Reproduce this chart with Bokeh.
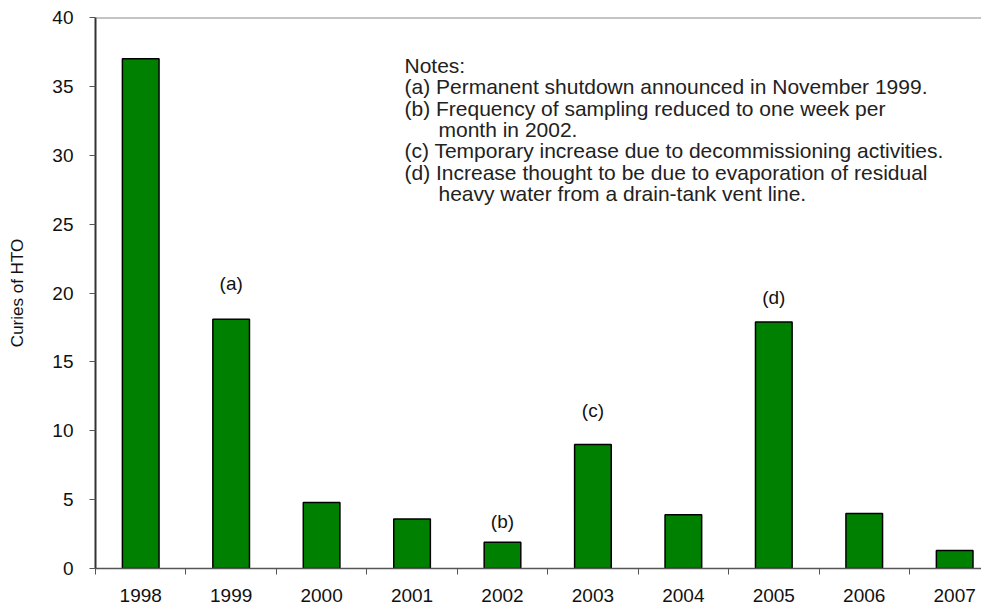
from bokeh.plotting import figure
from bokeh.models import Range1d, FixedTicker, Span
from bokeh.embed import file_html
from bokeh.resources import INLINE
from bokeh.core.properties import value

years = ["1998", "1999", "2000", "2001", "2002", "2003", "2004", "2005", "2006", "2007"]
curies = [37.0, 18.1, 4.8, 3.6, 1.9, 9.0, 3.9, 17.9, 4.0, 1.3]

note_years = ["1999", "2002", "2003", "2005"]
note_marks = ["(a)", "(b)", "(c)", "(d)"]
note_heights = [20.7, 3.4, 11.5, 19.7]

y_ticks = [0, 5, 10, 15, 20, 25, 30, 35, 40]

notes_lines = [
    "Notes:",
    "(a) Permanent shutdown announced in November 1999.",
    "(b) Frequency of sampling reduced to one week per",
    "month in 2002.",
    "(c) Temporary increase due to decommissioning activities.",
    "(d) Increase thought to be due to evaporation of residual",
    "heavy water from a drain-tank vent line.",
]
notes_indent = [False, False, False, True, False, False, True]

FONT = "Liberation Sans, Arial, sans-serif"

W, H = 981, 605
LEFT, TOP, BOTTOM = 95, 17, 37
px_per_cat = 90.44
frame_w = W - LEFT
frame_h = H - TOP - BOTTOM

p = figure(width=W, height=H, output_backend="svg", toolbar_location=None,
           x_range=Range1d(0, frame_w / px_per_cat), y_range=Range1d(0, 40),
           min_border_left=LEFT, min_border_right=0, min_border_top=TOP,
           min_border_bottom=BOTTOM)
p.outline_line_color = None
p.xgrid.visible = False
p.ygrid.visible = False
p.background_fill_color = "white"

centers = [i + 0.5 for i in range(len(years))]
p.vbar(x=centers, width=0.405, top=curies, bottom=0,
       fill_color="#008000", line_color="black", line_width=1.5)

# annotation marks above bars
mx = [years.index(y) + 0.5 for y in note_years]
p.text(x=mx, y=note_heights, text=note_marks, text_align="center", text_baseline="middle",
       text_font=value(FONT), text_font_size="19px", text_color="#111111")

# notes block
line_px = 21.3
y_per_px = 40 / float(frame_h)
top_center_px = 65 - TOP
nx0 = (404 - LEFT) / px_per_cat
nx1 = (438 - LEFT) / px_per_cat
nxs = [nx1 if ind else nx0 for ind in notes_indent]
nys = [40 - (top_center_px + i * line_px) * y_per_px for i in range(len(notes_lines))]
p.text(x=nxs, y=nys, text=notes_lines, text_align="left", text_baseline="middle",
       text_font=value(FONT), text_font_size="21px", text_color="#222222")

p.add_layout(Span(location=40, dimension="width", line_color="#8a8a8a", line_width=2))

# x axis
xa = p.xaxis[0]
xa.ticker = FixedTicker(ticks=centers, minor_ticks=list(range(len(years) + 1)))
xa.major_label_overrides = {c: y for c, y in zip(centers, years)}
xa.major_tick_line_color = None
xa.major_tick_out = 0
xa.major_tick_in = 0
xa.minor_tick_out = 6
xa.minor_tick_in = 0
xa.minor_tick_line_color = "#555555"
xa.axis_line_color = "#555555"
xa.axis_line_width = 1.5
xa.major_label_standoff = 14
xa.major_label_text_font = FONT
xa.major_label_text_font_size = "19px"
xa.major_label_text_color = "#111111"

# y axis
ya = p.yaxis[0]
ya.ticker = FixedTicker(ticks=y_ticks)
ya.minor_tick_line_color = None
ya.major_tick_out = 6
ya.major_tick_in = 0
ya.major_tick_line_color = "#555555"
ya.axis_line_color = "#333333"
ya.axis_line_width = 2
ya.major_label_standoff = 16
ya.major_label_text_font = FONT
ya.major_label_text_font_size = "19px"
ya.major_label_text_color = "#111111"
ya.axis_label = "Curies of HTO"
ya.axis_label_text_font = FONT
ya.axis_label_text_font_size = "17px"
ya.axis_label_text_font_style = "normal"
ya.axis_label_text_color = "#111111"
ya.axis_label_standoff = 22

open("out.html", "w").write(file_html(p, INLINE))
